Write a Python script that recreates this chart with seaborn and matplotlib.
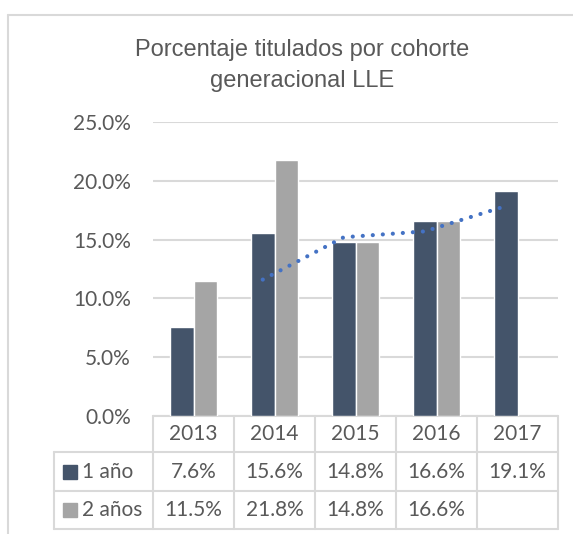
import numpy as np
import pandas as pd
import seaborn as sns
import matplotlib.pyplot as plt
from matplotlib.patches import Rectangle

# data
years = ["2013", "2014", "2015", "2016", "2017"]
series = ["1 año", "2 años"]
uno_anio = [7.6, 15.6, 14.8, 16.6, 19.1]
dos_anios = [11.5, 21.8, 14.8, 16.6, np.nan]
yticks = [0, 5, 10, 15, 20, 25]

colors = ["#44546A", "#A5A5A5"]
grid_c = "#D9D9D9"
text_c = "#595959"

df = pd.DataFrame({
    "year": years * 2,
    "serie": [series[0]] * 5 + [series[1]] * 5,
    "value": uno_anio + dos_anios,
})

sns.set_style("white")
plt.rcParams["font.family"] = ["Lato", "DejaVu Sans"]

W, H = 573, 534
fig = plt.figure(figsize=(W / 100, H / 100), dpi=100)

# background layer in pixel coords (top-left origin)
bg = fig.add_axes([0, 0, 1, 1], zorder=0)
bg.set_xlim(0, W)
bg.set_ylim(H, 0)
bg.axis("off")

left, right, top, bottom = 153, 558, 122, 416
ax = fig.add_axes([left / W, 1 - bottom / H, (right - left) / W, (bottom - top) / H], zorder=1)
ax.patch.set_alpha(0)

sns.barplot(data=df, x="year", y="value", hue="serie", order=years, hue_order=series,
            palette=colors, width=0.58, saturation=1, legend=False, ax=ax, zorder=3)

ax.set_xlim(-0.5, 4.5)
ax.set_ylim(0, 25)
ax.set_yticks(yticks)
ax.set_yticklabels([f"{t:.1f}%" for t in yticks], fontsize=15, color=text_c)
ax.tick_params(axis="y", length=0, pad=16)
ax.set_xticks([])
ax.set_xlabel("")
ax.set_ylabel("")
ax.yaxis.grid(True, color=grid_c, linewidth=1.5)
ax.set_axisbelow(True)
for s in ax.spines.values():
    s.set_visible(False)

# 2-period moving average trendline, drawn at the 1 año bar centres (like Excel)
bars1 = ax.containers[0]
xs = [p.get_x() + p.get_width() / 2 for p in bars1]
v = np.array(uno_anio)
ma = (v[1:] + v[:-1]) / 2
ax.plot(xs[1:], ma, color="#4472C4", linewidth=3.0, linestyle=(0, (0.01, 2.4)),
        dash_capstyle="round", zorder=4)

# title
fig.text(302 / W, 1 - 50 / H, "Porcentaje titulados por cohorte", ha="center", va="center",
         fontsize=17, color=text_c, family="Liberation Sans")
fig.text(302 / W, 1 - 81 / H, "generacional LLE", ha="center", va="center",
         fontsize=17, color=text_c, family="Liberation Sans")

# chart frame
bg.plot([8, W], [15, 15], color=grid_c, linewidth=1.5)
bg.plot([8, 8], [15, H], color=grid_c, linewidth=1.5)

# data table
col_px = [left + i * (right - left) / len(years) for i in range(len(years) + 1)]
rows = [416, 452, 491, 529]
leg_left = 54
bg.plot([left, right], [rows[0], rows[0]], color=grid_c, linewidth=1.5)
for r in rows[1:]:
    bg.plot([leg_left, right], [r, r], color=grid_c, linewidth=1.5)
for c in col_px:
    bg.plot([c, c], [rows[0], rows[3]], color=grid_c, linewidth=1.5)
bg.plot([leg_left, leg_left], [rows[1], rows[3]], color=grid_c, linewidth=1.5)

for i, y in enumerate(years):
    cx = (col_px[i] + col_px[i + 1]) / 2
    bg.text(cx, (rows[0] + rows[1]) / 2, y, ha="center", va="center", fontsize=15, color=text_c)
    for j, vals in enumerate([uno_anio, dos_anios]):
        val = vals[i]
        if not np.isnan(val):
            bg.text(cx, (rows[j + 1] + rows[j + 2]) / 2, f"{val:.1f}%", ha="center",
                    va="center", fontsize=15, color=text_c)

for j, name in enumerate(series):
    cy = (rows[j + 1] + rows[j + 2]) / 2
    bg.add_patch(Rectangle((63, cy - 7), 14, 14, color=colors[j]))
    bg.text(82, cy, name, ha="left", va="center", fontsize=15, color=text_c)

fig.savefig("out.png", dpi=100)
